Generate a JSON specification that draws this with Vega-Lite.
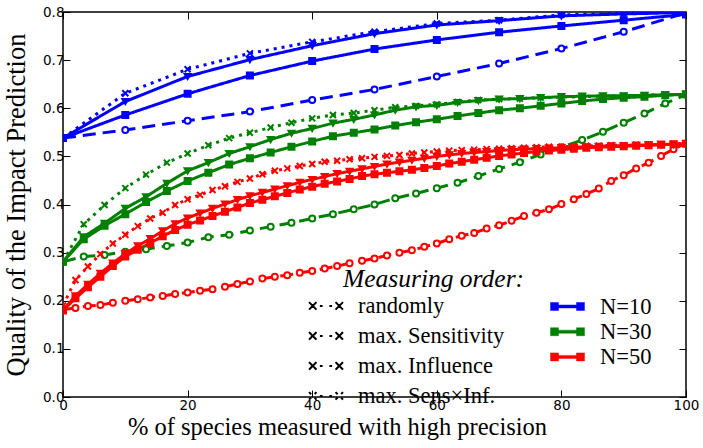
{
"$schema": "https://vega.github.io/schema/vega-lite/v6.json",
"width": 623, "height": 385,
"autosize": "none",
"padding": {"left": 63, "top": 12, "right": 17, "bottom": 51},
"background": "white",
"config": {
  "view": {"stroke": "black", "strokeWidth": 1.5},
  "axis": {"domain": false, "grid": false, "tickColor": "black", "tickWidth": 1, "tickSize": -7, "labelFont": "DejaVu Sans", "labelFontSize": 13.5, "labelColor": "black", "labelFlush": false, "labelOverlap": false, "titleFont": "Liberation Serif", "titleFontWeight": "normal", "titleColor": "black"},
  "legend": {"padding": 0, "labelFont": "Liberation Serif", "labelFontSize": 22.5, "labelColor": "black", "labelLimit": 400, "labelOffset": 15, "symbolSize": 1156, "orient": "none"}
},
"data": {"values": [
{"n":"10","o":"r","x":0,"y":0.538},{"n":"10","o":"r","x":10,"y":0.555},{"n":"10","o":"r","x":20,"y":0.574},{"n":"10","o":"r","x":30,"y":0.593},{"n":"10","o":"r","x":40,"y":0.617},{"n":"10","o":"r","x":50,"y":0.639},{"n":"10","o":"r","x":60,"y":0.666},{"n":"10","o":"r","x":70,"y":0.693},{"n":"10","o":"r","x":80,"y":0.724},{"n":"10","o":"r","x":90,"y":0.759},{"n":"10","o":"r","x":100,"y":0.798},
{"n":"10","o":"s","x":0,"y":0.538},{"n":"10","o":"s","x":10,"y":0.586},{"n":"10","o":"s","x":20,"y":0.630},{"n":"10","o":"s","x":30,"y":0.668},{"n":"10","o":"s","x":40,"y":0.698},{"n":"10","o":"s","x":50,"y":0.723},{"n":"10","o":"s","x":60,"y":0.742},{"n":"10","o":"s","x":70,"y":0.758},{"n":"10","o":"s","x":80,"y":0.771},{"n":"10","o":"s","x":90,"y":0.783},{"n":"10","o":"s","x":100,"y":0.795},
{"n":"10","o":"i","x":0,"y":0.538},{"n":"10","o":"i","x":10,"y":0.614},{"n":"10","o":"i","x":20,"y":0.666},{"n":"10","o":"i","x":30,"y":0.701},{"n":"10","o":"i","x":40,"y":0.730},{"n":"10","o":"i","x":50,"y":0.755},{"n":"10","o":"i","x":60,"y":0.773},{"n":"10","o":"i","x":70,"y":0.782},{"n":"10","o":"i","x":80,"y":0.792},{"n":"10","o":"i","x":90,"y":0.796},{"n":"10","o":"i","x":100,"y":0.799},
{"n":"10","o":"x","x":0,"y":0.538},{"n":"10","o":"x","x":10,"y":0.631},{"n":"10","o":"x","x":20,"y":0.681},{"n":"10","o":"x","x":30,"y":0.714},{"n":"10","o":"x","x":40,"y":0.738},{"n":"10","o":"x","x":50,"y":0.759},{"n":"10","o":"x","x":60,"y":0.776},{"n":"10","o":"x","x":70,"y":0.783},{"n":"10","o":"x","x":80,"y":0.794},{"n":"10","o":"x","x":90,"y":0.797},{"n":"10","o":"x","x":100,"y":0.800},
{"n":"30","o":"r","x":0,"y":0.281},{"n":"30","o":"r","x":3.33,"y":0.292},{"n":"30","o":"r","x":6.67,"y":0.295},{"n":"30","o":"r","x":10,"y":0.302},{"n":"30","o":"r","x":13.33,"y":0.307},{"n":"30","o":"r","x":16.67,"y":0.314},{"n":"30","o":"r","x":20,"y":0.321},{"n":"30","o":"r","x":23.33,"y":0.332},{"n":"30","o":"r","x":26.67,"y":0.337},{"n":"30","o":"r","x":30,"y":0.346},{"n":"30","o":"r","x":33.33,"y":0.354},{"n":"30","o":"r","x":36.67,"y":0.362},{"n":"30","o":"r","x":40,"y":0.371},{"n":"30","o":"r","x":43.33,"y":0.380},{"n":"30","o":"r","x":46.67,"y":0.390},{"n":"30","o":"r","x":50,"y":0.400},{"n":"30","o":"r","x":53.33,"y":0.413},{"n":"30","o":"r","x":56.67,"y":0.423},{"n":"30","o":"r","x":60,"y":0.434},{"n":"30","o":"r","x":63.33,"y":0.445},{"n":"30","o":"r","x":66.67,"y":0.459},{"n":"30","o":"r","x":70,"y":0.474},{"n":"30","o":"r","x":73.33,"y":0.488},{"n":"30","o":"r","x":76.67,"y":0.504},{"n":"30","o":"r","x":80,"y":0.519},{"n":"30","o":"r","x":83.33,"y":0.534},{"n":"30","o":"r","x":86.67,"y":0.551},{"n":"30","o":"r","x":90,"y":0.570},{"n":"30","o":"r","x":93.33,"y":0.589},{"n":"30","o":"r","x":96.67,"y":0.610},{"n":"30","o":"r","x":100,"y":0.628},
{"n":"30","o":"s","x":0,"y":0.281},{"n":"30","o":"s","x":3.33,"y":0.328},{"n":"30","o":"s","x":6.67,"y":0.356},{"n":"30","o":"s","x":10,"y":0.380},{"n":"30","o":"s","x":13.33,"y":0.405},{"n":"30","o":"s","x":16.67,"y":0.428},{"n":"30","o":"s","x":20,"y":0.449},{"n":"30","o":"s","x":23.33,"y":0.466},{"n":"30","o":"s","x":26.67,"y":0.483},{"n":"30","o":"s","x":30,"y":0.496},{"n":"30","o":"s","x":33.33,"y":0.508},{"n":"30","o":"s","x":36.67,"y":0.520},{"n":"30","o":"s","x":40,"y":0.531},{"n":"30","o":"s","x":43.33,"y":0.542},{"n":"30","o":"s","x":46.67,"y":0.549},{"n":"30","o":"s","x":50,"y":0.556},{"n":"30","o":"s","x":53.33,"y":0.564},{"n":"30","o":"s","x":56.67,"y":0.571},{"n":"30","o":"s","x":60,"y":0.577},{"n":"30","o":"s","x":63.33,"y":0.584},{"n":"30","o":"s","x":66.67,"y":0.590},{"n":"30","o":"s","x":70,"y":0.596},{"n":"30","o":"s","x":73.33,"y":0.600},{"n":"30","o":"s","x":76.67,"y":0.605},{"n":"30","o":"s","x":80,"y":0.610},{"n":"30","o":"s","x":83.33,"y":0.615},{"n":"30","o":"s","x":86.67,"y":0.619},{"n":"30","o":"s","x":90,"y":0.622},{"n":"30","o":"s","x":93.33,"y":0.624},{"n":"30","o":"s","x":96.67,"y":0.627},{"n":"30","o":"s","x":100,"y":0.629},
{"n":"30","o":"i","x":0,"y":0.281},{"n":"30","o":"i","x":3.33,"y":0.333},{"n":"30","o":"i","x":6.67,"y":0.361},{"n":"30","o":"i","x":10,"y":0.392},{"n":"30","o":"i","x":13.33,"y":0.416},{"n":"30","o":"i","x":16.67,"y":0.444},{"n":"30","o":"i","x":20,"y":0.470},{"n":"30","o":"i","x":23.33,"y":0.487},{"n":"30","o":"i","x":26.67,"y":0.506},{"n":"30","o":"i","x":30,"y":0.520},{"n":"30","o":"i","x":33.33,"y":0.535},{"n":"30","o":"i","x":36.67,"y":0.548},{"n":"30","o":"i","x":40,"y":0.558},{"n":"30","o":"i","x":43.33,"y":0.569},{"n":"30","o":"i","x":46.67,"y":0.577},{"n":"30","o":"i","x":50,"y":0.586},{"n":"30","o":"i","x":53.33,"y":0.596},{"n":"30","o":"i","x":56.67,"y":0.603},{"n":"30","o":"i","x":60,"y":0.606},{"n":"30","o":"i","x":63.33,"y":0.612},{"n":"30","o":"i","x":66.67,"y":0.616},{"n":"30","o":"i","x":70,"y":0.619},{"n":"30","o":"i","x":73.33,"y":0.620},{"n":"30","o":"i","x":76.67,"y":0.622},{"n":"30","o":"i","x":80,"y":0.624},{"n":"30","o":"i","x":83.33,"y":0.625},{"n":"30","o":"i","x":86.67,"y":0.626},{"n":"30","o":"i","x":90,"y":0.626},{"n":"30","o":"i","x":93.33,"y":0.627},{"n":"30","o":"i","x":96.67,"y":0.628},{"n":"30","o":"i","x":100,"y":0.629},
{"n":"30","o":"x","x":0,"y":0.281},{"n":"30","o":"x","x":3.33,"y":0.359},{"n":"30","o":"x","x":6.67,"y":0.399},{"n":"30","o":"x","x":10,"y":0.434},{"n":"30","o":"x","x":13.33,"y":0.462},{"n":"30","o":"x","x":16.67,"y":0.487},{"n":"30","o":"x","x":20,"y":0.506},{"n":"30","o":"x","x":23.33,"y":0.523},{"n":"30","o":"x","x":26.67,"y":0.538},{"n":"30","o":"x","x":30,"y":0.549},{"n":"30","o":"x","x":33.33,"y":0.560},{"n":"30","o":"x","x":36.67,"y":0.570},{"n":"30","o":"x","x":40,"y":0.579},{"n":"30","o":"x","x":43.33,"y":0.586},{"n":"30","o":"x","x":46.67,"y":0.590},{"n":"30","o":"x","x":50,"y":0.596},{"n":"30","o":"x","x":53.33,"y":0.602},{"n":"30","o":"x","x":56.67,"y":0.605},{"n":"30","o":"x","x":60,"y":0.608},{"n":"30","o":"x","x":63.33,"y":0.613},{"n":"30","o":"x","x":66.67,"y":0.617},{"n":"30","o":"x","x":70,"y":0.619},{"n":"30","o":"x","x":73.33,"y":0.620},{"n":"30","o":"x","x":76.67,"y":0.622},{"n":"30","o":"x","x":80,"y":0.623},{"n":"30","o":"x","x":83.33,"y":0.624},{"n":"30","o":"x","x":86.67,"y":0.625},{"n":"30","o":"x","x":90,"y":0.626},{"n":"30","o":"x","x":93.33,"y":0.627},{"n":"30","o":"x","x":96.67,"y":0.628},{"n":"30","o":"x","x":100,"y":0.629},
{"n":"50","o":"r","x":0,"y":0.182},{"n":"50","o":"r","x":2,"y":0.185},{"n":"50","o":"r","x":4,"y":0.189},{"n":"50","o":"r","x":6,"y":0.191},{"n":"50","o":"r","x":8,"y":0.196},{"n":"50","o":"r","x":10,"y":0.200},{"n":"50","o":"r","x":12,"y":0.203},{"n":"50","o":"r","x":14,"y":0.207},{"n":"50","o":"r","x":16,"y":0.210},{"n":"50","o":"r","x":18,"y":0.214},{"n":"50","o":"r","x":20,"y":0.217},{"n":"50","o":"r","x":22,"y":0.221},{"n":"50","o":"r","x":24,"y":0.224},{"n":"50","o":"r","x":26,"y":0.229},{"n":"50","o":"r","x":28,"y":0.235},{"n":"50","o":"r","x":30,"y":0.240},{"n":"50","o":"r","x":32,"y":0.246},{"n":"50","o":"r","x":34,"y":0.250},{"n":"50","o":"r","x":36,"y":0.253},{"n":"50","o":"r","x":38,"y":0.258},{"n":"50","o":"r","x":40,"y":0.262},{"n":"50","o":"r","x":42,"y":0.267},{"n":"50","o":"r","x":44,"y":0.272},{"n":"50","o":"r","x":46,"y":0.278},{"n":"50","o":"r","x":48,"y":0.283},{"n":"50","o":"r","x":50,"y":0.288},{"n":"50","o":"r","x":52,"y":0.294},{"n":"50","o":"r","x":54,"y":0.300},{"n":"50","o":"r","x":56,"y":0.305},{"n":"50","o":"r","x":58,"y":0.312},{"n":"50","o":"r","x":60,"y":0.319},{"n":"50","o":"r","x":62,"y":0.328},{"n":"50","o":"r","x":64,"y":0.335},{"n":"50","o":"r","x":66,"y":0.341},{"n":"50","o":"r","x":68,"y":0.350},{"n":"50","o":"r","x":70,"y":0.357},{"n":"50","o":"r","x":72,"y":0.366},{"n":"50","o":"r","x":74,"y":0.376},{"n":"50","o":"r","x":76,"y":0.383},{"n":"50","o":"r","x":78,"y":0.390},{"n":"50","o":"r","x":80,"y":0.401},{"n":"50","o":"r","x":82,"y":0.411},{"n":"50","o":"r","x":84,"y":0.422},{"n":"50","o":"r","x":86,"y":0.433},{"n":"50","o":"r","x":88,"y":0.449},{"n":"50","o":"r","x":90,"y":0.461},{"n":"50","o":"r","x":92,"y":0.475},{"n":"50","o":"r","x":94,"y":0.487},{"n":"50","o":"r","x":96,"y":0.501},{"n":"50","o":"r","x":98,"y":0.515},{"n":"50","o":"r","x":100,"y":0.527},
{"n":"50","o":"s","x":0,"y":0.180},{"n":"50","o":"s","x":2,"y":0.205},{"n":"50","o":"s","x":4,"y":0.228},{"n":"50","o":"s","x":6,"y":0.250},{"n":"50","o":"s","x":8,"y":0.272},{"n":"50","o":"s","x":10,"y":0.292},{"n":"50","o":"s","x":12,"y":0.306},{"n":"50","o":"s","x":14,"y":0.320},{"n":"50","o":"s","x":16,"y":0.334},{"n":"50","o":"s","x":18,"y":0.347},{"n":"50","o":"s","x":20,"y":0.358},{"n":"50","o":"s","x":22,"y":0.367},{"n":"50","o":"s","x":24,"y":0.376},{"n":"50","o":"s","x":26,"y":0.385},{"n":"50","o":"s","x":28,"y":0.394},{"n":"50","o":"s","x":30,"y":0.403},{"n":"50","o":"s","x":32,"y":0.410},{"n":"50","o":"s","x":34,"y":0.417},{"n":"50","o":"s","x":36,"y":0.424},{"n":"50","o":"s","x":38,"y":0.431},{"n":"50","o":"s","x":40,"y":0.437},{"n":"50","o":"s","x":42,"y":0.443},{"n":"50","o":"s","x":44,"y":0.448},{"n":"50","o":"s","x":46,"y":0.453},{"n":"50","o":"s","x":48,"y":0.459},{"n":"50","o":"s","x":50,"y":0.463},{"n":"50","o":"s","x":52,"y":0.466},{"n":"50","o":"s","x":54,"y":0.469},{"n":"50","o":"s","x":56,"y":0.472},{"n":"50","o":"s","x":58,"y":0.476},{"n":"50","o":"s","x":60,"y":0.480},{"n":"50","o":"s","x":62,"y":0.485},{"n":"50","o":"s","x":64,"y":0.489},{"n":"50","o":"s","x":66,"y":0.493},{"n":"50","o":"s","x":68,"y":0.497},{"n":"50","o":"s","x":70,"y":0.501},{"n":"50","o":"s","x":72,"y":0.504},{"n":"50","o":"s","x":74,"y":0.507},{"n":"50","o":"s","x":76,"y":0.510},{"n":"50","o":"s","x":78,"y":0.512},{"n":"50","o":"s","x":80,"y":0.514},{"n":"50","o":"s","x":82,"y":0.516},{"n":"50","o":"s","x":84,"y":0.518},{"n":"50","o":"s","x":86,"y":0.519},{"n":"50","o":"s","x":88,"y":0.520},{"n":"50","o":"s","x":90,"y":0.521},{"n":"50","o":"s","x":92,"y":0.522},{"n":"50","o":"s","x":94,"y":0.523},{"n":"50","o":"s","x":96,"y":0.524},{"n":"50","o":"s","x":98,"y":0.525},{"n":"50","o":"s","x":100,"y":0.526},
{"n":"50","o":"i","x":0,"y":0.180},{"n":"50","o":"i","x":2,"y":0.210},{"n":"50","o":"i","x":4,"y":0.234},{"n":"50","o":"i","x":6,"y":0.257},{"n":"50","o":"i","x":8,"y":0.278},{"n":"50","o":"i","x":10,"y":0.298},{"n":"50","o":"i","x":12,"y":0.314},{"n":"50","o":"i","x":14,"y":0.329},{"n":"50","o":"i","x":16,"y":0.345},{"n":"50","o":"i","x":18,"y":0.360},{"n":"50","o":"i","x":20,"y":0.372},{"n":"50","o":"i","x":22,"y":0.382},{"n":"50","o":"i","x":24,"y":0.392},{"n":"50","o":"i","x":26,"y":0.401},{"n":"50","o":"i","x":28,"y":0.410},{"n":"50","o":"i","x":30,"y":0.418},{"n":"50","o":"i","x":32,"y":0.425},{"n":"50","o":"i","x":34,"y":0.432},{"n":"50","o":"i","x":36,"y":0.439},{"n":"50","o":"i","x":38,"y":0.446},{"n":"50","o":"i","x":40,"y":0.452},{"n":"50","o":"i","x":42,"y":0.458},{"n":"50","o":"i","x":44,"y":0.464},{"n":"50","o":"i","x":46,"y":0.469},{"n":"50","o":"i","x":48,"y":0.474},{"n":"50","o":"i","x":50,"y":0.479},{"n":"50","o":"i","x":52,"y":0.484},{"n":"50","o":"i","x":54,"y":0.488},{"n":"50","o":"i","x":56,"y":0.492},{"n":"50","o":"i","x":58,"y":0.496},{"n":"50","o":"i","x":60,"y":0.500},{"n":"50","o":"i","x":62,"y":0.503},{"n":"50","o":"i","x":64,"y":0.506},{"n":"50","o":"i","x":66,"y":0.508},{"n":"50","o":"i","x":68,"y":0.510},{"n":"50","o":"i","x":70,"y":0.512},{"n":"50","o":"i","x":72,"y":0.514},{"n":"50","o":"i","x":74,"y":0.515},{"n":"50","o":"i","x":76,"y":0.516},{"n":"50","o":"i","x":78,"y":0.517},{"n":"50","o":"i","x":80,"y":0.518},{"n":"50","o":"i","x":82,"y":0.519},{"n":"50","o":"i","x":84,"y":0.520},{"n":"50","o":"i","x":86,"y":0.521},{"n":"50","o":"i","x":88,"y":0.522},{"n":"50","o":"i","x":90,"y":0.522},{"n":"50","o":"i","x":92,"y":0.523},{"n":"50","o":"i","x":94,"y":0.524},{"n":"50","o":"i","x":96,"y":0.525},{"n":"50","o":"i","x":98,"y":0.525},{"n":"50","o":"i","x":100,"y":0.526},
{"n":"50","o":"x","x":0,"y":0.190},{"n":"50","o":"x","x":2,"y":0.243},{"n":"50","o":"x","x":4,"y":0.271},{"n":"50","o":"x","x":6,"y":0.297},{"n":"50","o":"x","x":8,"y":0.319},{"n":"50","o":"x","x":10,"y":0.337},{"n":"50","o":"x","x":12,"y":0.355},{"n":"50","o":"x","x":14,"y":0.371},{"n":"50","o":"x","x":16,"y":0.383},{"n":"50","o":"x","x":18,"y":0.399},{"n":"50","o":"x","x":20,"y":0.411},{"n":"50","o":"x","x":22,"y":0.420},{"n":"50","o":"x","x":24,"y":0.430},{"n":"50","o":"x","x":26,"y":0.438},{"n":"50","o":"x","x":28,"y":0.447},{"n":"50","o":"x","x":30,"y":0.454},{"n":"50","o":"x","x":32,"y":0.463},{"n":"50","o":"x","x":34,"y":0.470},{"n":"50","o":"x","x":36,"y":0.475},{"n":"50","o":"x","x":38,"y":0.480},{"n":"50","o":"x","x":40,"y":0.484},{"n":"50","o":"x","x":42,"y":0.489},{"n":"50","o":"x","x":44,"y":0.491},{"n":"50","o":"x","x":46,"y":0.494},{"n":"50","o":"x","x":48,"y":0.496},{"n":"50","o":"x","x":50,"y":0.499},{"n":"50","o":"x","x":52,"y":0.501},{"n":"50","o":"x","x":54,"y":0.503},{"n":"50","o":"x","x":56,"y":0.506},{"n":"50","o":"x","x":58,"y":0.508},{"n":"50","o":"x","x":60,"y":0.510},{"n":"50","o":"x","x":62,"y":0.512},{"n":"50","o":"x","x":64,"y":0.513},{"n":"50","o":"x","x":66,"y":0.514},{"n":"50","o":"x","x":68,"y":0.515},{"n":"50","o":"x","x":70,"y":0.516},{"n":"50","o":"x","x":72,"y":0.517},{"n":"50","o":"x","x":74,"y":0.518},{"n":"50","o":"x","x":76,"y":0.519},{"n":"50","o":"x","x":78,"y":0.520},{"n":"50","o":"x","x":80,"y":0.520},{"n":"50","o":"x","x":82,"y":0.521},{"n":"50","o":"x","x":84,"y":0.522},{"n":"50","o":"x","x":86,"y":0.522},{"n":"50","o":"x","x":88,"y":0.523},{"n":"50","o":"x","x":90,"y":0.523},{"n":"50","o":"x","x":92,"y":0.524},{"n":"50","o":"x","x":94,"y":0.524},{"n":"50","o":"x","x":96,"y":0.525},{"n":"50","o":"x","x":98,"y":0.526},{"n":"50","o":"x","x":100,"y":0.527}
]},
"layer": [
  {
    "mark": {"type": "line", "strokeWidth": 3, "clip": true},
    "encoding": {
      "x": {"field": "x", "type": "quantitative", "scale": {"domain": [0, 100], "nice": false}, "axis": {"orient": "bottom", "values": [0, 20, 40, 60, 80, 100], "labelPadding": 8, "title": "% of species measured with high precision", "titleFontSize": 24.5, "titlePadding": 4, "titleX": 274}},
      "y": {"field": "y", "type": "quantitative", "scale": {"domain": [0, 0.8], "nice": false, "zero": false}, "axis": {"orient": "left", "values": [0, 0.1, 0.2, 0.3, 0.4, 0.5, 0.6, 0.7, 0.8], "format": ".1f", "labelPadding": 6, "title": "Quality of the Impact Prediction", "titleFontSize": 26.5, "titlePadding": 12}},
      "color": {"field": "n", "type": "nominal", "scale": {"domain": ["10", "30", "50"], "range": ["#0000ff", "#008000", "#ff0000"]},
        "legend": {"title": null, "legendX": 487, "legendY": 284.5, "clipHeight": 20, "rowPadding": 2.2, "labelExpr": "'N=' + datum.label",
          "encode": {"symbols": {"update": {
            "shape": {"value": "M-1,-0.235H-0.53V0.235H-1ZM0.53,-0.235H1V0.235H0.53ZM-0.53,-0.088H0.53V0.088H-0.53Z"},
            "size": {"value": 1156},
            "fill": {"condition": [{"test": "datum.value === '10'", "value": "#0000ff"}, {"test": "datum.value === '30'", "value": "#008000"}], "value": "#ff0000"},
            "stroke": {"condition": [{"test": "datum.value === '10'", "value": "#0000ff"}, {"test": "datum.value === '30'", "value": "#008000"}], "value": "#ff0000"},
            "strokeWidth": {"value": 0.5}, "opacity": {"value": 1}, "fillOpacity": {"value": 1}, "strokeDash": {"value": [1, 0]}}}}}},
      "strokeDash": {"field": "o", "type": "nominal", "scale": {"domain": ["r", "s", "i", "x"], "range": [[13, 7], [1, 0], [1, 0], [3, 5]]},
        "legend": {"title": "Measuring order:", "legendX": 280, "legendY": 255, "symbolOffset": -35, "labelOffset": 14, "rowPadding": -5.5,
          "titleFont": "Liberation Serif", "titleFontStyle": "italic", "titleFontSize": 25.5, "titleFontWeight": "normal", "titleColor": "black", "titlePadding": -4.6, "titleLimit": 400,
          "labelExpr": "datum.label === 'r' ? 'randomly' : datum.label === 's' ? 'max. Sensitivity' : datum.label === 'i' ? 'max. Influence' : 'max. Sens×Inf.'",
          "encode": {
            "symbols": {"update": {
            "shape": {"condition": [
              {"test": "datum.value === 'r'", "value": "M-0.584,0L-0.644,0.146L-0.79,0.206L-0.936,0.146L-0.996,0L-0.936,-0.146L-0.79,-0.206L-0.644,-0.146ZM-0.584,0L-0.12,0M0.996,0L0.936,0.146L0.79,0.206L0.644,0.146L0.584,0L0.644,-0.146L0.79,-0.206L0.936,-0.146Z"},
              {"test": "datum.value === 's'", "value": "M-1,-0.235H-0.53V0.235H-1ZM0.53,-0.235H1V0.235H0.53ZM-0.53,-0.088H0.53V0.088H-0.53Z"},
              {"test": "datum.value === 'i'", "value": "M-1.03,-0.235H-0.5L-0.765,0.235ZM0.5,-0.235H1.03L0.765,0.235ZM-0.6,-0.088H0.6V0.088H-0.6Z"}],
              "value": "M-1,-0.22L-0.56,0.22M-1,0.22L-0.56,-0.22M0.56,-0.22L1,0.22M0.56,0.22L1,-0.22M-0.36,0H-0.2M0.2,0H0.36"},
            "size": {"value": 1156},
            "fill": {"condition": [{"test": "datum.value === 'r'", "value": "white"}, {"test": "datum.value === 'x'", "value": "transparent"}], "value": "black"},
            "stroke": {"value": "black"},
            "strokeWidth": {"value": 2},
            "strokeDash": {"value": [1, 0]},
            "opacity": {"value": 1}, "fillOpacity": {"value": 1}, "strokeOpacity": {"value": 1}}}}}}
    }
  },
  {
    "mark": {"type": "point", "filled": true, "opacity": 1, "strokeWidth": 2, "size": 36, "clip": true},
    "encoding": {
      "x": {"field": "x", "type": "quantitative", "axis": {"orient": "top", "values": [0, 20, 40, 60, 80, 100], "labels": false, "title": null}},
      "y": {"field": "y", "type": "quantitative", "axis": {"orient": "right", "values": [0, 0.1, 0.2, 0.3, 0.4, 0.5, 0.6, 0.7, 0.8], "labels": false, "title": null}},
      "color": {"field": "n", "type": "nominal", "condition": {"test": "datum.o === 'r'", "value": "white"}},
      "stroke": {"field": "n", "type": "nominal", "scale": {"domain": ["50", "30", "10"], "range": ["#ff0000", "#008000", "#0000ff"]}, "legend": null},
      "shape": {"field": "o", "type": "nominal", "scale": {"domain": ["x", "i", "s", "r"], "range": ["M-1,-1L1,1M-1,1L1,-1", "triangle-down", "square", "circle"]}, "legend": null}
    }
  }
]
}
